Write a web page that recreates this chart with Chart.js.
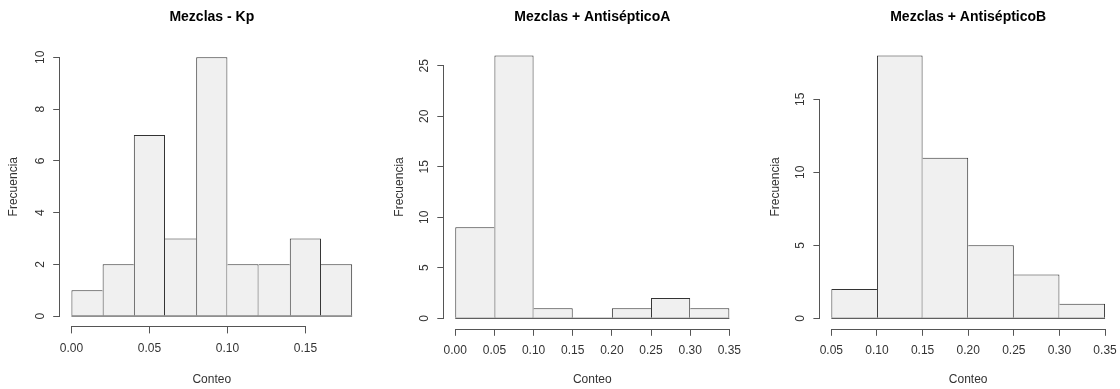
<!DOCTYPE html>
<html>
<head>
<meta charset="utf-8">
<script src="https://cdn.jsdelivr.net/npm/chart.js@4"></script>
<style>
  html, body { margin: 0; padding: 0; background: #fff; }
  .panel { position: absolute; top: 0; }
</style>
</head>
<body>
<canvas id="histKp" class="panel" style="left:0px" width="373" height="389"></canvas>
<canvas id="histA" class="panel" style="left:373px" width="373" height="389"></canvas>
<canvas id="histB" class="panel" style="left:746px" width="374" height="389"></canvas>
<script>
// ===============================
// Histogram data (bin edges + counts)
// ===============================

const kpTitle = "Mezclas - Kp";
const kpBreaks = [0.00, 0.02, 0.04, 0.06, 0.08, 0.10, 0.12, 0.14, 0.16, 0.18];
const kpCounts = [1, 2, 7, 3, 10, 2, 2, 3, 2];

const aTitle = "Mezclas + AntisépticoA";
const aBreaks = [0.00, 0.05, 0.10, 0.15, 0.20, 0.25, 0.30, 0.35];
const aCounts = [9, 26, 1, 0, 1, 2, 1];

const bTitle = "Mezclas + AntisépticoB";
const bBreaks = [0.05, 0.10, 0.15, 0.20, 0.25, 0.30, 0.35];
const bCounts = [2, 18, 11, 5, 3, 1];

const xTitle = "Conteo";
const yTitle = "Frecuencia";

const xTickStep = 0.05;
const kpYStep = 2;
const aYStep = 5;
const bYStep = 5;

// ===============================
// Shared look
// ===============================

const FONT = "'Liberation Sans', Arial, Helvetica, sans-serif";
const TEXT = "#333333";
const LINE = "#555555";
const BAR_FILL = "#f0f0f0";
const BAR_EDGE = "#333333";

Chart.defaults.font.family = FONT;
Chart.defaults.font.size = 12;
Chart.defaults.color = TEXT;

// axis lines only run from the first tick to the last one
const shortAxes = {
    id: "shortAxes",
    afterDraw(chart) {
        const ctx = chart.ctx;
        const area = chart.chartArea;
        const xs = chart.scales.x;
        const ys = chart.scales.y;
        ctx.save();
        ctx.strokeStyle = LINE;
        ctx.lineWidth = 1;
        ctx.beginPath();
        let y0 = Math.round(area.bottom) + 0.5;
        ctx.moveTo(xs.getPixelForValue(xs.ticks[0].value), y0);
        ctx.lineTo(xs.getPixelForValue(xs.ticks[xs.ticks.length - 1].value), y0);
        let x0 = Math.round(area.left) - 0.5;
        ctx.moveTo(x0, ys.getPixelForValue(ys.ticks[0].value));
        ctx.lineTo(x0, ys.getPixelForValue(ys.ticks[ys.ticks.length - 1].value));
        ctx.stroke();
        ctx.restore();
    }
};

function makeHist(canvasId, title, breaks, counts, yStep, box) {

    let mids = [];
    for (let i = 0; i < counts.length; i++) {
        mids.push({ x: (breaks[i] + breaks[i + 1]) / 2, y: counts[i] });
    }

    let lo = breaks[0];
    let hi = breaks[breaks.length - 1];
    let padX = (hi - lo) * 0.04;
    let top = Math.max(...counts);
    let padY = top * 0.04;

    // one line per shared edge: the taller bar owns it
    let edgeWidth = (c) => {
        let i = c.dataIndex;
        return {
            top: 1,
            bottom: 0,
            left: (i === 0 || counts[i] > counts[i - 1]) ? 1 : 0,
            right: (i === counts.length - 1 || counts[i] >= counts[i + 1]) ? 1 : 0
        };
    };

    return new Chart(document.getElementById(canvasId).getContext("2d"), {

        type: "bar",

        data: {
            datasets: [
                {
                    type: "line",
                    data: [{ x: lo, y: 0 }, { x: hi, y: 0 }],
                    borderColor: BAR_EDGE,
                    borderWidth: 1,
                    pointRadius: 0,
                    order: 0
                },
                {
                    label: yTitle,
                    data: mids,
                    backgroundColor: BAR_FILL,
                    borderColor: BAR_EDGE,
                    borderWidth: edgeWidth,
                    borderSkipped: false,
                    inflateAmount: 0,
                    barPercentage: 1,
                    categoryPercentage: 1,
                    order: 1
                }
            ]
        },

        options: {
            responsive: false,
            animation: false,
            devicePixelRatio: 1,
            layout: {
                padding: { left: 0, right: box.right, top: 0, bottom: 0 }
            },
            plugins: {
                legend: { display: false },
                tooltip: { enabled: false },
                title: {
                    display: true,
                    text: title,
                    fullSize: false,
                    color: "#000",
                    font: { size: 14, weight: "bold", lineHeight: 1.2 },
                    padding: { top: 8.6, bottom: box.top - 8.6 - 16.8 }
                }
            },
            scales: {
                x: {
                    type: "linear",
                    offset: false,
                    min: lo - padX,
                    max: hi + padX,
                    grid: {
                        display: true,
                        offset: false,
                        drawOnChartArea: false,
                        drawTicks: true,
                        tickLength: 7,
                        color: LINE
                    },
                    border: { display: false },
                    ticks: {
                        stepSize: xTickStep,
                        includeBounds: false,
                        autoSkip: false,
                        maxRotation: 0,
                        padding: 8,
                        color: TEXT,
                        callback: (v) => v.toFixed(2)
                    },
                    title: {
                        display: true,
                        text: xTitle,
                        color: TEXT,
                        font: { size: 12 },
                        padding: { top: 0, bottom: 2 }
                    },
                    afterFit(scale) {
                        scale.height = box.xHeight;
                        scale.paddingLeft = 0;
                        scale.paddingRight = 0;
                    }
                },
                y: {
                    type: "linear",
                    min: -padY,
                    max: top + padY,
                    grid: {
                        display: true,
                        offset: false,
                        drawOnChartArea: false,
                        drawTicks: true,
                        tickLength: 7,
                        color: LINE
                    },
                    border: { display: false },
                    ticks: {
                        stepSize: yStep,
                        includeBounds: false,
                        autoSkip: false,
                        minRotation: 90,
                        maxRotation: 90,
                        crossAlign: "center",
                        padding: 6,
                        color: TEXT
                    },
                    title: {
                        display: true,
                        text: yTitle,
                        color: TEXT,
                        font: { size: 12 },
                        padding: { top: box.yTitlePad, bottom: 0 }
                    },
                    afterFit(scale) {
                        scale.width = box.yWidth;
                        scale.paddingTop = 0;
                        scale.paddingBottom = 0;
                    }
                }
            }
        },

        plugins: [shortAxes]

    });
}

makeHist("histKp", kpTitle, kpBreaks, kpCounts, kpYStep,
    { yWidth: 60.2, right: 9.6, top: 47, xHeight: 62.6, yTitlePad: 6.1 });

makeHist("histA", aTitle, aBreaks, aCounts, aYStep,
    { yWidth: 71.3, right: 5.7, top: 45.1, xHeight: 60.2, yTitlePad: 19.5 });

makeHist("histB", bTitle, bBreaks, bCounts, bYStep,
    { yWidth: 74.4, right: 4, top: 45, xHeight: 60.2, yTitlePad: 22.1 });
</script>
</body>
</html>
